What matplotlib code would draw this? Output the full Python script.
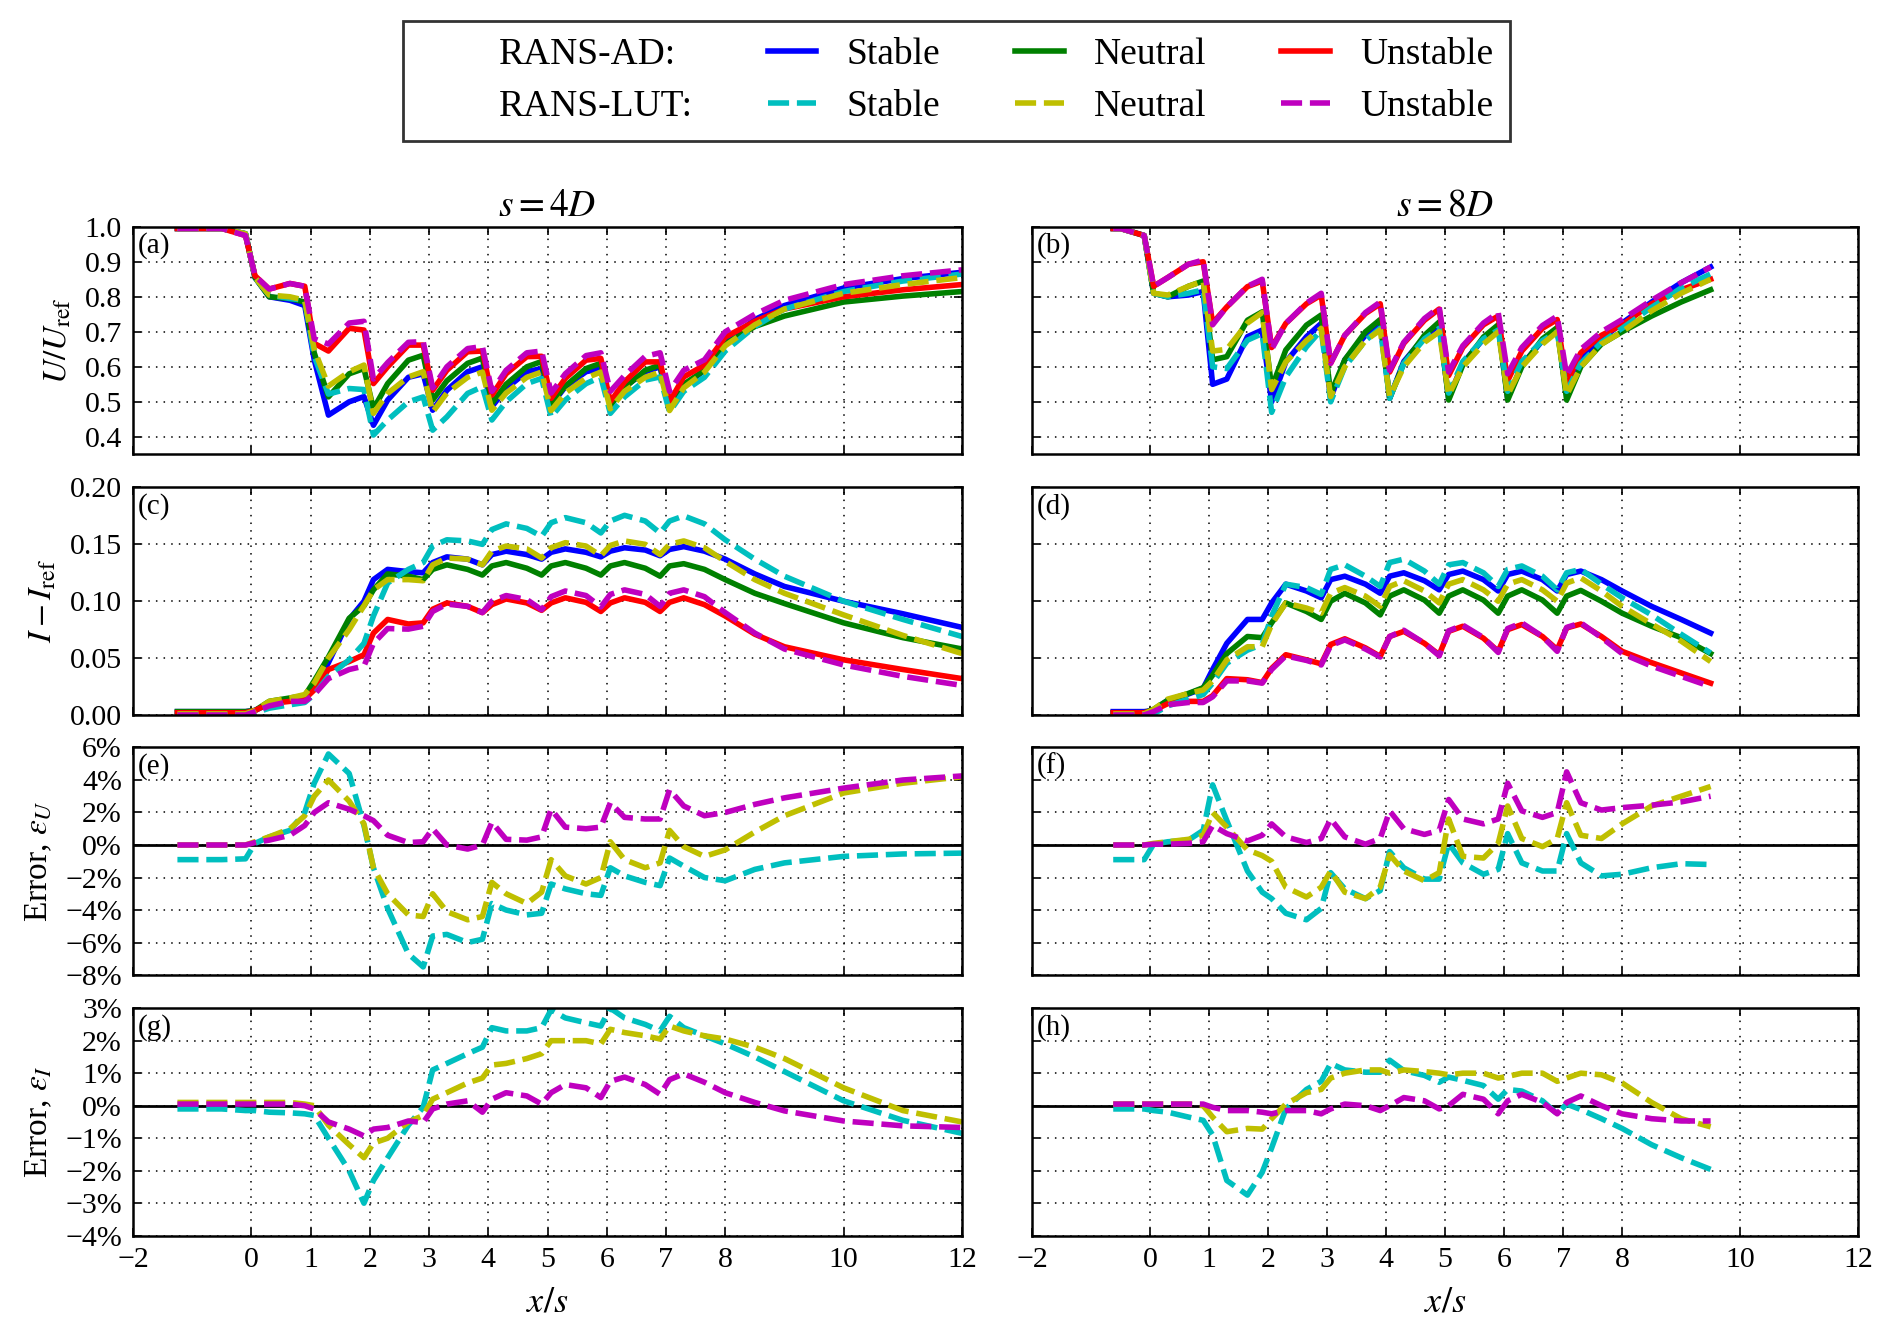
import matplotlib
matplotlib.use("Agg")
import matplotlib.pyplot as plt
from matplotlib.lines import Line2D

plt.rcParams["font.family"] = "serif"
plt.rcParams["font.serif"] = ["Liberation Serif", "DejaVu Serif"]
plt.rcParams["mathtext.fontset"] = "stix"

# streamwise positions x/s (turbines at 0..7)
x_4d = [-1.25, -0.5,
        -0.1, 0.06, 0.3, 0.65,
        0.9, 1.06, 1.3, 1.65,
        1.9, 2.06, 2.3, 2.65,
        2.9, 3.06, 3.3, 3.65,
        3.9, 4.06, 4.3, 4.65,
        4.9, 5.06, 5.3, 5.65,
        5.9, 6.06, 6.3, 6.65,
        6.9, 7.06, 7.3, 7.65,
        8.0, 8.5, 9.0, 10.0, 11.0, 12.0]
x_8d = [-0.625, -0.5,
        -0.1, 0.06, 0.3, 0.65,
        0.9, 1.06, 1.3, 1.65,
        1.9, 2.06, 2.3, 2.65,
        2.9, 3.06, 3.3, 3.65,
        3.9, 4.06, 4.3, 4.65,
        4.9, 5.06, 5.3, 5.65,
        5.9, 6.06, 6.3, 6.65,
        6.9, 7.06, 7.3, 7.65,
        8.0, 8.5, 9.0, 9.5]

# ---- U/Uref, s = 4D ----
u4_ad_stable = [0.995, 0.995,
                0.98, 0.855, 0.80, 0.79,
                0.775, 0.62, 0.462, 0.50,
                0.515, 0.433, 0.505, 0.57,
                0.58, 0.476, 0.533, 0.586,
                0.60, 0.486, 0.538, 0.586,
                0.595, 0.49, 0.543, 0.586,
                0.595, 0.49, 0.543, 0.586,
                0.60, 0.48, 0.545, 0.59,
                0.67, 0.735, 0.775, 0.825, 0.852, 0.87]
u4_ad_neutral = [0.995, 0.995,
                 0.98, 0.855, 0.80, 0.795,
                 0.785, 0.64, 0.514, 0.58,
                 0.595, 0.48, 0.552, 0.619,
                 0.633, 0.505, 0.56, 0.61,
                 0.625, 0.495, 0.55, 0.60,
                 0.615, 0.495, 0.545, 0.595,
                 0.61, 0.49, 0.54, 0.59,
                 0.605, 0.48, 0.55, 0.59,
                 0.665, 0.715, 0.745, 0.785, 0.802, 0.815]
u4_ad_unstable = [0.995, 0.995,
                  0.975, 0.86, 0.822, 0.838,
                  0.83, 0.667, 0.645, 0.71,
                  0.705, 0.552, 0.60, 0.662,
                  0.662, 0.533, 0.59, 0.643,
                  0.645, 0.519, 0.58, 0.629,
                  0.63, 0.51, 0.567, 0.619,
                  0.624, 0.50, 0.557, 0.614,
                  0.614, 0.50, 0.571, 0.605,
                  0.685, 0.73, 0.765, 0.80, 0.82, 0.835]
u4_lut_stable = [0.995, 0.995,
                 0.98, 0.855, 0.805, 0.795,
                 0.79, 0.63, 0.522, 0.538,
                 0.535, 0.405, 0.448, 0.50,
                 0.514, 0.419, 0.457, 0.524,
                 0.543, 0.448, 0.50, 0.552,
                 0.567, 0.457, 0.505, 0.552,
                 0.571, 0.467, 0.514, 0.562,
                 0.571, 0.471, 0.53, 0.57,
                 0.645, 0.715, 0.765, 0.815, 0.845, 0.865]
u4_lut_neutral = [0.995, 0.995,
                  0.98, 0.855, 0.805, 0.80,
                  0.79, 0.65, 0.545, 0.586,
                  0.605, 0.467, 0.524, 0.571,
                  0.586, 0.471, 0.525, 0.57,
                  0.585, 0.476, 0.525, 0.57,
                  0.585, 0.475, 0.525, 0.568,
                  0.585, 0.48, 0.53, 0.57,
                  0.585, 0.475, 0.54, 0.585,
                  0.66, 0.72, 0.765, 0.81, 0.835, 0.855]
u4_lut_unstable = [0.995, 0.995,
                   0.975, 0.86, 0.822, 0.838,
                   0.83, 0.68, 0.665, 0.725,
                   0.73, 0.565, 0.612, 0.67,
                   0.672, 0.54, 0.60, 0.652,
                   0.658, 0.53, 0.59, 0.64,
                   0.645, 0.525, 0.58, 0.632,
                   0.64, 0.53, 0.575, 0.63,
                   0.64, 0.53, 0.59, 0.62,
                   0.70, 0.75, 0.79, 0.835, 0.86, 0.877]

# ---- U/Uref, s = 8D ----
u8_ad_stable = [0.995, 0.995,
                0.975, 0.81, 0.80, 0.805,
                0.815, 0.55, 0.565, 0.686,
                0.705, 0.50, 0.614, 0.686,
                0.724, 0.51, 0.62, 0.69,
                0.725, 0.51, 0.615, 0.685,
                0.72, 0.51, 0.61, 0.68,
                0.715, 0.51, 0.605, 0.675,
                0.71, 0.52, 0.62, 0.68,
                0.725, 0.785, 0.84, 0.885]
u8_ad_neutral = [0.995, 0.995,
                 0.975, 0.81, 0.80, 0.83,
                 0.845, 0.62, 0.629, 0.733,
                 0.757, 0.54, 0.648, 0.719,
                 0.748, 0.524, 0.62, 0.70,
                 0.735, 0.51, 0.61, 0.69,
                 0.728, 0.505, 0.605, 0.685,
                 0.72, 0.505, 0.60, 0.68,
                 0.712, 0.505, 0.60, 0.665,
                 0.70, 0.745, 0.785, 0.82]
u8_ad_unstable = [0.995, 0.995,
                  0.975, 0.83, 0.855, 0.893,
                  0.90, 0.725, 0.771, 0.829,
                  0.845, 0.655, 0.724, 0.78,
                  0.805, 0.61, 0.69, 0.752,
                  0.78, 0.585, 0.667, 0.733,
                  0.765, 0.575, 0.655, 0.72,
                  0.745, 0.56, 0.645, 0.71,
                  0.735, 0.555, 0.64, 0.69,
                  0.72, 0.78, 0.82, 0.85]
u8_lut_stable = [0.995, 0.995,
                 0.975, 0.81, 0.80, 0.81,
                 0.82, 0.60, 0.595, 0.676,
                 0.695, 0.47, 0.571, 0.657,
                 0.705, 0.50, 0.60, 0.675,
                 0.71, 0.51, 0.61, 0.68,
                 0.71, 0.525, 0.615, 0.68,
                 0.705, 0.53, 0.615, 0.675,
                 0.70, 0.53, 0.61, 0.67,
                 0.71, 0.77, 0.825, 0.865]
u8_lut_neutral = [0.995, 0.995,
                  0.975, 0.81, 0.805, 0.83,
                  0.845, 0.645, 0.65, 0.725,
                  0.755, 0.535, 0.614, 0.675,
                  0.71, 0.515, 0.60, 0.675,
                  0.705, 0.515, 0.60, 0.67,
                  0.70, 0.52, 0.60, 0.665,
                  0.70, 0.52, 0.60, 0.665,
                  0.70, 0.52, 0.60, 0.665,
                  0.70, 0.76, 0.81, 0.85]
u8_lut_unstable = [0.995, 0.995,
                   0.975, 0.83, 0.855, 0.893,
                   0.905, 0.72, 0.771, 0.83,
                   0.85, 0.65, 0.724, 0.782,
                   0.81, 0.61, 0.69, 0.755,
                   0.785, 0.59, 0.67, 0.738,
                   0.77, 0.585, 0.66, 0.725,
                   0.755, 0.58, 0.655, 0.718,
                   0.745, 0.575, 0.65, 0.70,
                   0.735, 0.79, 0.84, 0.885]

# ---- I - Iref, s = 4D ----
i4_ad_stable = [0.003, 0.003,
                0.003, 0.004, 0.010, 0.013,
                0.015, 0.025, 0.046, 0.084,
                0.100, 0.119, 0.128, 0.126,
                0.125, 0.134, 0.139, 0.137,
                0.132, 0.141, 0.144, 0.141,
                0.137, 0.143, 0.146, 0.143,
                0.139, 0.144, 0.147, 0.145,
                0.140, 0.1455, 0.148, 0.144,
                0.137, 0.124, 0.113, 0.100, 0.089, 0.077]
i4_ad_neutral = [0.003, 0.003,
                 0.003, 0.004, 0.012, 0.015,
                 0.017, 0.030, 0.051, 0.085,
                 0.096, 0.110, 0.124, 0.122,
                 0.119, 0.128, 0.132, 0.128,
                 0.123, 0.131, 0.134, 0.129,
                 0.123, 0.131, 0.134, 0.129,
                 0.123, 0.131, 0.134, 0.129,
                 0.122, 0.131, 0.133, 0.128,
                 0.119, 0.107, 0.098, 0.081, 0.068, 0.058]
i4_ad_unstable = [0.002, 0.002,
                  0.002, 0.004, 0.010, 0.012,
                  0.014, 0.022, 0.040, 0.047,
                  0.053, 0.072, 0.084, 0.080,
                  0.081, 0.093, 0.0985, 0.0955,
                  0.090, 0.097, 0.102, 0.0985,
                  0.092, 0.0985, 0.103, 0.099,
                  0.091, 0.0985, 0.103, 0.099,
                  0.091, 0.099, 0.103, 0.097,
                  0.087, 0.071, 0.060, 0.0485, 0.040, 0.032]
i4_lut_stable = [0.0, 0.0,
                 0.0, 0.002, 0.006, 0.009,
                 0.011, 0.018, 0.034, 0.0485,
                 0.063, 0.087, 0.116, 0.128,
                 0.134, 0.1485, 0.154, 0.153,
                 0.150, 0.163, 0.168, 0.164,
                 0.157, 0.169, 0.1735, 0.169,
                 0.160, 0.1705, 0.1755, 0.1705,
                 0.160, 0.1705, 0.175, 0.168,
                 0.154, 0.137, 0.122, 0.100, 0.084, 0.069]
i4_lut_neutral = [0.001, 0.001,
                  0.001, 0.004, 0.012, 0.015,
                  0.018, 0.028, 0.050, 0.075,
                  0.096, 0.110, 0.119, 0.119,
                  0.118, 0.132, 0.138, 0.137,
                  0.132, 0.144, 0.1485, 0.146,
                  0.138, 0.147, 0.1515, 0.1485,
                  0.140, 0.149, 0.153, 0.150,
                  0.141, 0.150, 0.153, 0.147,
                  0.135, 0.119, 0.107, 0.088, 0.070, 0.054]
i4_lut_unstable = [0.0, 0.0,
                   0.0, 0.003, 0.008, 0.012,
                   0.012, 0.018, 0.032, 0.040,
                   0.043, 0.063, 0.076, 0.0755,
                   0.078, 0.091, 0.0975, 0.0955,
                   0.090, 0.100, 0.105, 0.1015,
                   0.0925, 0.104, 0.109, 0.105,
                   0.095, 0.106, 0.110, 0.106,
                   0.0955, 0.107, 0.110, 0.104,
                   0.090, 0.072, 0.058, 0.044, 0.034, 0.026]

# ---- I - Iref, s = 8D ----
i8_ad_stable = [0.003, 0.003,
                0.003, 0.004, 0.013, 0.0185,
                0.0235, 0.040, 0.063, 0.084,
                0.084, 0.0985, 0.115, 0.109,
                0.103, 0.119, 0.122, 0.115,
                0.107, 0.122, 0.125, 0.118,
                0.110, 0.1235, 0.1265, 0.119,
                0.109, 0.1235, 0.1265, 0.119,
                0.109, 0.1235, 0.1265, 0.119,
                0.109, 0.0955, 0.084, 0.072]
i8_ad_neutral = [0.002, 0.002,
                 0.002, 0.005, 0.013, 0.019,
                 0.024, 0.035, 0.054, 0.069,
                 0.068, 0.081, 0.0985, 0.091,
                 0.084, 0.100, 0.107, 0.0985,
                 0.088, 0.1045, 0.110, 0.101,
                 0.0895, 0.1045, 0.110, 0.101,
                 0.0895, 0.1045, 0.110, 0.101,
                 0.0895, 0.1045, 0.1095, 0.100,
                 0.0895, 0.078, 0.068, 0.054]
i8_ad_unstable = [0.002, 0.002,
                  0.002, 0.004, 0.010, 0.012,
                  0.012, 0.017, 0.032, 0.031,
                  0.0285, 0.041, 0.053, 0.0485,
                  0.045, 0.062, 0.067, 0.059,
                  0.0515, 0.069, 0.0735, 0.063,
                  0.053, 0.0735, 0.078, 0.0675,
                  0.056, 0.075, 0.0795, 0.069,
                  0.0575, 0.0765, 0.080, 0.069,
                  0.056, 0.046, 0.037, 0.028]
i8_lut_stable = [0.0, 0.0,
                 0.0, 0.001, 0.008, 0.014,
                 0.018, 0.028, 0.0455, 0.057,
                 0.062, 0.087, 0.115, 0.112,
                 0.106, 0.128, 0.132, 0.122,
                 0.113, 0.134, 0.137, 0.1265,
                 0.115, 0.132, 0.134, 0.125,
                 0.113, 0.128, 0.131, 0.122,
                 0.110, 0.125, 0.128, 0.115,
                 0.103, 0.088, 0.071, 0.0545]
i8_lut_neutral = [0.001, 0.001,
                  0.001, 0.005, 0.014, 0.019,
                  0.022, 0.030, 0.0485, 0.060,
                  0.060, 0.0795, 0.0985, 0.094,
                  0.0895, 0.107, 0.112, 0.1045,
                  0.0955, 0.113, 0.118, 0.109,
                  0.0985, 0.115, 0.119, 0.110,
                  0.100, 0.115, 0.119, 0.110,
                  0.100, 0.116, 0.1205, 0.109,
                  0.0955, 0.080, 0.065, 0.047]
i8_lut_unstable = [0.0, 0.0,
                   0.0, 0.003, 0.009, 0.011,
                   0.011, 0.016, 0.030, 0.030,
                   0.028, 0.040, 0.052, 0.048,
                   0.044, 0.061, 0.066, 0.058,
                   0.051, 0.069, 0.0745, 0.063,
                   0.052, 0.074, 0.079, 0.068,
                   0.055, 0.076, 0.081, 0.069,
                   0.056, 0.077, 0.081, 0.068,
                   0.054, 0.043, 0.034, 0.025]

# ---- error in U (%), LUT vs AD ----
eu4_stable = [-0.9, -0.9,
              -0.85, 0.1, 0.5, 0.9,
              2.0, 3.8, 5.6, 4.4,
              1.2, -1.4, -3.9, -6.7,
              -7.5, -5.6, -5.5, -6.0,
              -5.8, -3.6, -4.0, -4.3,
              -4.2, -2.4, -2.7, -3.0,
              -3.1, -1.4, -1.9, -2.3,
              -2.5, -0.8, -1.3, -2.0,
              -2.2, -1.5, -1.1, -0.7, -0.55, -0.5]
eu4_neutral = [0.0, 0.0,
               0.0, 0.2, 0.5, 1.0,
               1.8, 3.0, 4.0, 2.7,
               1.3, -1.4, -3.0, -4.3,
               -4.4, -3.0, -4.1, -4.6,
               -4.4, -2.3, -3.0, -3.6,
               -2.9, -0.9, -1.9, -2.4,
               -2.0, 0.2, -0.9, -1.4,
               -1.1, 0.9, -0.1, -0.7,
               -0.3, 0.8, 1.8, 3.2, 3.8, 4.2]
eu4_unstable = [0.0, 0.0,
                0.0, 0.15, 0.3, 0.6,
                1.2, 2.0, 2.6, 2.2,
                1.8, 1.5, 0.6, 0.15,
                0.2, 1.0, 0.0, -0.25,
                0.0, 1.4, 0.35, 0.3,
                0.5, 2.2, 1.1, 1.0,
                1.1, 2.6, 1.7, 1.6,
                1.6, 3.4, 2.4, 1.8,
                2.0, 2.5, 2.9, 3.5, 4.0, 4.25]
eu8_stable = [-0.9, -0.9,
              -0.9, 0.05, 0.2, 0.3,
              0.9, 3.7, 1.5, -1.6,
              -2.9, -3.3, -4.2, -4.6,
              -3.9, -1.7, -2.7, -3.3,
              -2.8, -0.4, -1.4, -2.1,
              -2.1, 0.1, -1.1, -1.8,
              -1.5, 0.7, -1.1, -1.6,
              -1.6, 0.7, -1.1, -1.9,
              -1.8, -1.4, -1.15, -1.2]
eu8_neutral = [0.0, 0.0,
               0.0, 0.1, 0.2, 0.35,
               0.6, 2.0, 1.1, -0.3,
               -0.65, -1.0, -2.6, -3.2,
               -2.6, -1.6, -2.9, -3.3,
               -2.6, -0.6, -1.6, -2.2,
               -1.7, 1.6, -0.7, -0.8,
               0.1, 2.4, 0.4, -0.1,
               0.4, 2.6, 0.6, 0.4,
               1.3, 2.4, 3.0, 3.6]
eu8_unstable = [0.0, 0.0,
                0.0, 0.05, 0.05, 0.1,
                0.2, 1.2, 0.7, 0.25,
                0.6, 1.3, 0.5, 0.15,
                0.4, 1.6, 0.5, 0.05,
                0.4, 2.1, 1.0, 0.65,
                0.9, 2.8, 1.6, 1.3,
                1.6, 3.8, 2.1, 1.7,
                2.0, 4.5, 2.6, 2.15,
                2.3, 2.45, 2.65, 3.0]

# ---- error in I (%), LUT vs AD ----
ei4_stable = [-0.1, -0.1,
              -0.15, -0.15, -0.2, -0.22,
              -0.25, -0.3, -1.0, -2.0,
              -3.0, -2.3, -1.6, -0.6,
              -0.05, 1.1, 1.3, 1.6,
              1.8, 2.4, 2.3, 2.3,
              2.4, 2.95, 2.7, 2.55,
              2.45, 3.0, 2.7, 2.5,
              2.3, 2.75, 2.4, 2.15,
              1.9, 1.5, 1.05, 0.15, -0.45, -0.85]
ei4_neutral = [0.1, 0.1,
               0.1, 0.1, 0.1, 0.1,
               0.05, 0.0, -0.6, -1.2,
               -1.6, -1.15, -1.0, -0.5,
               -0.3, 0.2, 0.4, 0.7,
               0.85, 1.25, 1.3, 1.45,
               1.6, 2.0, 2.0, 2.0,
               1.9, 2.35, 2.25, 2.15,
               2.05, 2.45, 2.3, 2.15,
               2.05, 1.8, 1.45, 0.55, -0.15, -0.5]
ei4_unstable = [0.05, 0.05,
                0.05, 0.05, 0.05, 0.05,
                0.0, -0.1, -0.5, -0.72,
                -0.93, -0.72, -0.67, -0.47,
                -0.52, -0.1, 0.05, 0.15,
                -0.2, 0.2, 0.4, 0.3,
                0.05, 0.4, 0.65, 0.55,
                0.25, 0.75, 0.88, 0.65,
                0.35, 0.8, 0.98, 0.72,
                0.4, 0.1, -0.16, -0.47, -0.62, -0.67]
ei8_stable = [-0.1, -0.1,
              -0.1, -0.15, -0.2, -0.35,
              -0.45, -0.9, -2.3, -2.75,
              -2.05, -1.3, -0.1, 0.5,
              0.75, 1.3, 1.1, 1.03,
              1.03, 1.4, 1.08, 0.93,
              0.72, 0.88, 0.78, 0.62,
              0.2, 0.5, 0.45, 0.15,
              -0.25, 0.05, -0.12, -0.4,
              -0.7, -1.2, -1.6, -1.96]
ei8_neutral = [0.05, 0.05,
               0.05, 0.05, 0.05, 0.05,
               0.0, -0.35, -0.8, -0.7,
               -0.72, -0.4, 0.05, 0.4,
               0.5, 0.85, 1.0, 1.1,
               1.1, 1.0, 1.1, 1.05,
               1.0, 0.95, 1.0, 1.0,
               0.85, 0.9, 1.0, 1.0,
               0.75, 0.85, 1.0, 0.95,
               0.7, 0.1, -0.4, -0.65]
ei8_unstable = [0.05, 0.05,
                0.05, 0.05, 0.05, 0.05,
                0.05, -0.05, -0.15, -0.15,
                -0.2, -0.25, -0.15, -0.15,
                -0.25, -0.1, 0.05, 0.0,
                -0.15, 0.0, 0.25, 0.15,
                -0.1, 0.0, 0.35, 0.2,
                -0.25, 0.15, 0.35, 0.1,
                -0.25, 0.1, 0.3, 0.0,
                -0.25, -0.4, -0.47, -0.47]

x_ticks = [-2, 0, 1, 2, 3, 4, 5, 6, 7, 8, 10, 12]
ad_colors = ["b", "g", "r"]
lut_colors = ["c", "y", "m"]
LW = 4.0
DASH = (3.8, 1.4)


def minus(s):
    return s.replace("-", "\u2212")


fig = plt.figure(figsize=(18.92, 13.41), dpi=100)
col_left = [0.0703, 0.5455]
col_width = [0.4382, 0.4366]
row_bottom = [0.6612, 0.4668, 0.2729, 0.0785]
row_h = 0.1697
axes = [[fig.add_axes([col_left[c], row_bottom[r], col_width[c], row_h])
         for c in range(2)] for r in range(4)]

panels = [
    ([u4_ad_stable, u4_ad_neutral, u4_ad_unstable],
     [u4_lut_stable, u4_lut_neutral, u4_lut_unstable],
     [u8_ad_stable, u8_ad_neutral, u8_ad_unstable],
     [u8_lut_stable, u8_lut_neutral, u8_lut_unstable]),
    ([i4_ad_stable, i4_ad_neutral, i4_ad_unstable],
     [i4_lut_stable, i4_lut_neutral, i4_lut_unstable],
     [i8_ad_stable, i8_ad_neutral, i8_ad_unstable],
     [i8_lut_stable, i8_lut_neutral, i8_lut_unstable]),
    ([], [eu4_stable, eu4_neutral, eu4_unstable],
     [], [eu8_stable, eu8_neutral, eu8_unstable]),
    ([], [ei4_stable, ei4_neutral, ei4_unstable],
     [], [ei8_stable, ei8_neutral, ei8_unstable]),
]

ylims = [(0.35, 1.0), (0.0, 0.2), (-8, 6), (-4, 3)]
yticks = [[0.4, 0.5, 0.6, 0.7, 0.8, 0.9, 1.0],
          [0.0, 0.05, 0.10, 0.15, 0.20],
          [-8, -6, -4, -2, 0, 2, 4, 6],
          [-4, -3, -2, -1, 0, 1, 2, 3]]
ytick_labels = [[f"{t:.1f}" for t in yticks[0]],
                [f"{t:.2f}" for t in yticks[1]],
                [minus(f"{t}%") for t in yticks[2]],
                [minus(f"{t}%") for t in yticks[3]]]
ylabels = [r"$U/U_{\mathrm{ref}}$", r"$I-I_{\mathrm{ref}}$",
           r"Error, $\epsilon_U$", r"Error, $\epsilon_I$"]
letters = "abcdefgh"

handles_ad, handles_lut = [], []
for r in range(4):
    ad4, lut4, ad8, lut8 = panels[r]
    for c in range(2):
        ax = axes[r][c]
        xs = x_4d if c == 0 else x_8d
        ad = ad4 if c == 0 else ad8
        lut = lut4 if c == 0 else lut8
        if r >= 2:
            ax.axhline(0, color="k", lw=2.0)
        for y, col in zip(ad, ad_colors):
            ln, = ax.plot(xs, y, color=col, lw=LW)
            if r == 0 and c == 0:
                handles_ad.append(ln)
        for y, col in zip(lut, lut_colors):
            ln, = ax.plot(xs, y, color=col, lw=LW, dashes=DASH)
            if r == 0 and c == 0:
                handles_lut.append(ln)
        ax.set_xlim(-2, 12)
        ax.set_ylim(*ylims[r])
        ax.set_xticks(x_ticks)
        ax.set_xticklabels([minus(str(t)) for t in x_ticks])
        ax.set_yticks(yticks[r])
        ax.set_yticklabels(ytick_labels[r])
        ax.set_axisbelow(True)
        ax.grid(True, color="k", linestyle=(0, (1, 4)), linewidth=1.1)
        ax.tick_params(direction="in", top=True, right=True, length=6,
                       width=1.2, labelsize=21.5, pad=8)
        ax.tick_params(axis="x", labelbottom=(r == 3))
        ax.tick_params(axis="y", labelleft=(c == 0))
        for sp in ax.spines.values():
            sp.set_linewidth(1.8)
        ax.text(0.006, 0.975, f"({letters[2 * r + c]})", transform=ax.transAxes,
                ha="left", va="top", fontsize=21)
        if c == 0:
            ax.set_ylabel(ylabels[r], fontsize=24, labelpad=8)
        if r == 3:
            ax.set_xlabel(r"$x/s$", fontsize=26, labelpad=10)

axes[0][0].set_title(r"$s=4D$", fontsize=27, pad=8)
axes[0][1].set_title(r"$s=8D$", fontsize=27, pad=8)

blank = Line2D([], [], color="none")
handles = [blank, blank,
           handles_ad[0], handles_lut[0],
           handles_ad[1], handles_lut[1],
           handles_ad[2], handles_lut[2]]
labels = ["RANS-AD:", "RANS-LUT:",
          "Stable", "Stable", "Neutral", "Neutral", "Unstable", "Unstable"]
leg = fig.legend(handles, labels, loc="center", bbox_to_anchor=(0.5055, 0.9398),
                 ncol=4, fontsize=27, frameon=True, fancybox=False,
                 edgecolor="k", handlelength=1.3, handletextpad=0.8,
                 columnspacing=2.0, labelspacing=0.45, borderpad=0.45)
leg.get_frame().set_linewidth(2.0)

fig.savefig("out.png", dpi=100)
